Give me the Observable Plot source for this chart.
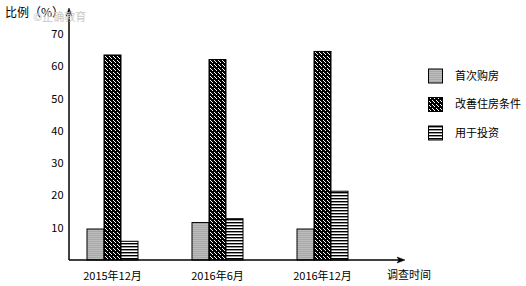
<!DOCTYPE html>
<html><head><meta charset="utf-8">
<script src="https://cdn.jsdelivr.net/npm/d3@7"></script>
<script src="https://cdn.jsdelivr.net/npm/@observablehq/plot@0.6"></script>
<style>body{margin:0;background:#fff}</style>
</head><body><div id="chart"></div>
<script>
const dates = ["2015年12月", "2016年6月", "2016年12月"];
const series = ["首次购房", "改善住房条件", "用于投资"];
const firstHome = [9.6, 11.6, 9.6];
const improveHome = [63.5, 62.1, 64.6];
const investment = [5.8, 12.8, 21.3];
const yTicks = [10, 20, 30, 40, 50, 60, 70];
const yLabel = "比例（%）";
const xLabel = "调查时间";
const watermark = "©正确教育";

const values = [firstHome, improveHome, investment];
const data = dates.flatMap((d, i) => series.map((s, j) => ({date: d, series: s, value: values[j][i]})));
const patternIds = ["pat-first", "pat-improve", "pat-invest"];
const font = "'Noto Sans CJK SC', sans-serif";

const plot = Plot.plot({
  width: 526, height: 286,
  marginLeft: 69, marginRight: 162, marginTop: 34, marginBottom: 26,
  style: {fontFamily: font, fontSize: "11px", background: "white", color: "black", overflow: "visible"},
  fx: {domain: dates, paddingInner: 0.204, paddingOuter: 0, axis: null},
  x: {domain: series, paddingInner: 0, paddingOuter: 0.923, axis: null},
  y: {domain: [0, 70], axis: null},
  color: {domain: series, range: patternIds.map(id => `url(#${id})`)},
  marks: [
    Plot.barY(data, {fx: "date", x: "series", y: "value", fill: "series", stroke: "black", strokeWidth: 1}),
    Plot.axisY({ticks: yTicks, tickSize: 0, tickPadding: 7, label: null}),
    Plot.axisFx({anchor: "bottom", tickSize: 0, tickPadding: 12, label: null})
  ]
});
document.getElementById("chart").appendChild(plot);

const svg = d3.select(plot);
const defs = svg.insert("defs", ":first-child");
// grey with fine horizontal lines
const p0 = defs.append("pattern").attr("id", patternIds[0]).attr("patternUnits", "userSpaceOnUse").attr("width", 2).attr("height", 2);
p0.append("rect").attr("width", 2).attr("height", 2).attr("fill", "#a9a9a9");
p0.append("rect").attr("width", 2).attr("height", 1).attr("fill", "#bcbcbc");
// black with white dotted diagonals
const p1 = defs.append("pattern").attr("id", patternIds[1]).attr("patternUnits", "userSpaceOnUse").attr("width", 4).attr("height", 4);
p1.append("rect").attr("width", 4).attr("height", 4).attr("fill", "#000");
[[0,0],[1,1],[2,2]].forEach(([a,b]) => p1.append("rect").attr("x", a).attr("y", b).attr("width", 1).attr("height", 1).attr("fill", "#fff"));
// horizontal black/white stripes
const p2 = defs.append("pattern").attr("id", patternIds[2]).attr("patternUnits", "userSpaceOnUse").attr("width", 3).attr("height", 3);
p2.append("rect").attr("width", 3).attr("height", 3).attr("fill", "#fff");
p2.append("rect").attr("width", 3).attr("height", 1.4).attr("fill", "#000");

// axes lines with arrows
const y = plot.scale("y");
const y0 = y.apply(0), yTop = 8;
const xLeft = 69, xEnd = 405;
const g = svg.append("g").attr("stroke", "black").attr("fill", "black");
g.append("line").attr("x1", xLeft).attr("x2", xLeft).attr("y1", y0).attr("y2", yTop + 5).attr("stroke-width", 1.5);
g.append("path").attr("d", `M${xLeft},${yTop} L${xLeft-3},${yTop+8} L${xLeft},${yTop+6} L${xLeft+3},${yTop+8} Z`).attr("stroke-width", 0.5);
g.append("line").attr("x1", xLeft).attr("x2", xEnd - 5).attr("y1", y0).attr("y2", y0).attr("stroke-width", 1.5);
g.append("path").attr("d", `M${xEnd},${y0} L${xEnd-8},${y0-3} L${xEnd-6},${y0} L${xEnd-8},${y0+3} Z`).attr("stroke-width", 0.5);

// texts
const txt = svg.append("g").attr("text-anchor", "start");
txt.append("text").attr("x", 5).attr("y", 17).attr("font-size", 12).text(yLabel);
txt.append("text").attr("x", 33).attr("y", 21).attr("font-size", 11).attr("fill", "#c8c8c8").text(watermark);
txt.append("text").attr("x", 387).attr("y", 279).attr("font-size", 11).text(xLabel);

// legend
const leg = svg.append("g").attr("text-anchor", "start");
series.forEach((s, i) => {
  const top = 69 + i * 28.5;
  leg.append("rect").attr("x", 428.5).attr("y", top).attr("width", 14).attr("height", 14)
    .attr("fill", `url(#${patternIds[i]})`).attr("stroke", "black");
  leg.append("text").attr("x", 455).attr("y", top + 7).attr("dy", "0.35em").attr("font-size", 11).text(s);
});
</script></body></html>
